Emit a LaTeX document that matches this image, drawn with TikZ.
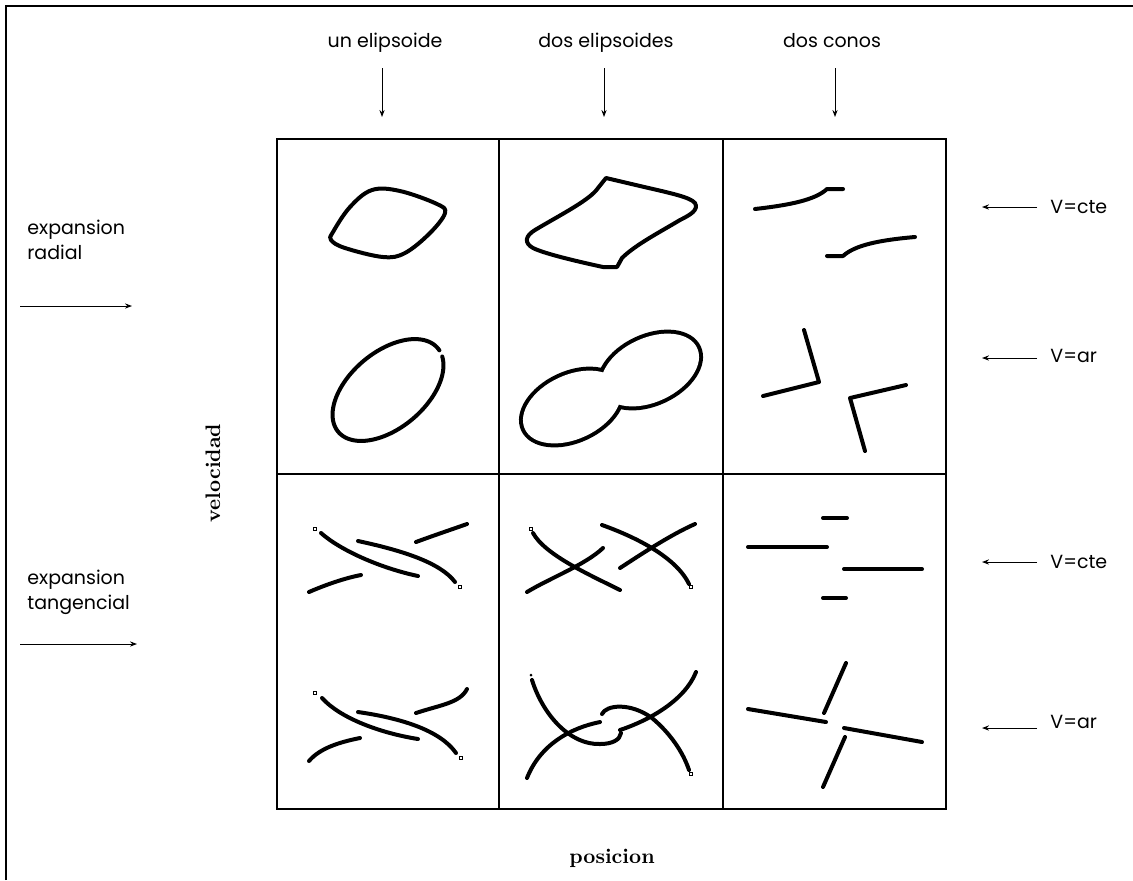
\documentclass[tikz,border=0pt]{standalone}
\usepackage{fontspec}
\newfontfamily\gothic{Poppins}
\usetikzlibrary{arrows.meta}
\begin{document}
\begin{tikzpicture}[x=0.5pt,y=-0.5pt,
  frame/.style={line width=0.75pt},
  curve/.style={line width=2pt, line cap=round, line join=round},
  lab/.style={font=\gothic\fontsize{9.5}{11}\selectfont, inner sep=0pt},
  ser/.style={font=\bfseries\fontsize{10.5}{12}\selectfont, inner sep=0pt},
  arr/.style={line width=0.5pt, -{Stealth[length=3.5pt,width=2.6pt]}},
  mk/.style={line width=0.4pt}
]
\useasboundingbox (0,0) rectangle (1133,880);
\draw[line width=1pt] (6,880) -- (6,6) -- (1133,6);
% grid
\draw[frame] (277,139) rectangle (946,809);
\draw[frame] (499,139) -- (499,809);
\draw[frame] (723,139) -- (723,809);
\draw[frame] (277,474) -- (946,474);
% top labels
\node[lab,anchor=base] (t1) at (385,47) {un elipsoide};
\node[lab,anchor=base] (t2) at (606,47) {dos elipsoides};
\node[lab,anchor=base] (t3) at (832,47) {dos conos};
\coordinate (t1a) at (382,68); \coordinate (t1b) at (382,117);
\coordinate (t2a) at (604,68); \coordinate (t2b) at (604,117);
\coordinate (t3a) at (835,68); \coordinate (t3b) at (835,117);
\draw[arr] (t1a) -- (t1b);
\draw[arr] (t2a) -- (t2b);
\draw[arr] (t3a) -- (t3b);
% left labels
\node[lab,anchor=base west] (l1) at (27,234) {expansion};
\node[lab,anchor=base west] (l2) at (27,259) {radial};
\node[lab,anchor=base west] (l3) at (27,584) {expansion};
\node[lab,anchor=base west] (l4) at (27,609) {tangencial};
\coordinate (l1a) at (20,306); \coordinate (l1b) at (132,306);
\coordinate (l3a) at (20,644); \coordinate (l3b) at (137,644);
\draw[arr] (l1a) -- (l1b);
\draw[arr] (l3a) -- (l3b);
% right labels
\node[lab,anchor=base west] (r1) at (1050,213) {V=cte};
\node[lab,anchor=base west] (r2) at (1050,362) {V=ar};
\node[lab,anchor=base west] (r3) at (1050,568) {V=cte};
\node[lab,anchor=base west] (r4) at (1050,728) {V=ar};
\coordinate (r1a) at (1037,207); \coordinate (r1b) at (982,207);
\coordinate (r2a) at (1037,358); \coordinate (r2b) at (982,358);
\coordinate (r3a) at (1037,562); \coordinate (r3b) at (982,562);
\coordinate (r4a) at (1037,728); \coordinate (r4b) at (982,728);
\draw[arr] (r1a) -- (r1b);
\draw[arr] (r2a) -- (r2b);
\draw[arr] (r3a) -- (r3b);
\draw[arr] (r4a) -- (r4b);
% axis labels
\node[ser,rotate=90] (vel) at (213,473) {velocidad};
\node[ser] (pos) at (612,858) {posicion};
% ---- cell 1,1
\draw[curve] plot[smooth cycle, tension=0.6] coordinates {(333,232) (350,207) (372,190) (400,191) (437,204) (445,213) (430,233) (405,253) (383,257) (345,248) (331,240)};
% ---- cell 1,2
\draw[curve] (606,178) -- (640,186) .. controls (670,193) and (690,197) .. (695,203)
  .. controls (699,210) and (690,215) .. (680,220)
  .. controls (660,232) and (635,245) .. (622,258) -- (617,267) -- (603,267)
  .. controls (580,262) and (545,254) .. (533,248)
  .. controls (524,243) and (525,236) .. (535,230)
  .. controls (560,215) and (590,200) .. (598,188) -- cycle;
% ---- cell 1,3
\draw[curve] (755,209) .. controls (790,205) and (815,200) .. (827,189) -- (843,189);
\draw[curve] (827,256) -- (843,256) .. controls (855,245) and (880,240) .. (915,237);
% ---- cell 2,1
\draw[curve] plot[domain=14:364, samples=120, smooth] ({388+65*cos(\x)*0.766+38*sin(\x)*0.643},{390-65*cos(\x)*0.643+38*sin(\x)*0.766});
% ---- cell 2,2
\begin{scope}
\draw[line width=4pt] (572,407) ellipse[x radius=52, y radius=32, rotate=25];
\draw[line width=4pt] (650,370) ellipse[x radius=52, y radius=32, rotate=25];
\fill[white] (572,407) ellipse[x radius=52, y radius=32, rotate=25];
\fill[white] (650,370) ellipse[x radius=52, y radius=32, rotate=25];
\end{scope}
% ---- cell 2,3
\draw[curve] (804,330) -- (819,382) -- (763,396);
\draw[curve] (906,385) -- (850,398) -- (865,451);
% ---- cell 3,1
\draw[curve] (321,533) .. controls (340,550) and (380,568) .. (418,576);
\draw[curve] (358,541) .. controls (400,550) and (440,562) .. (455,582);
\draw[curve] (416,542) .. controls (435,535) and (450,530) .. (467,524);
\draw[curve] (309,592) .. controls (325,585) and (345,578) .. (361,575);
\draw[mk] (313.5,527.5) rectangle (316.5,530.5);
\draw[mk] (458.5,585.5) rectangle (461.5,588.5);
% ---- cell 3,2
\draw[curve] (533,533) .. controls (545,555) and (590,575) .. (620,590);
\draw[curve] (527,592) .. controls (550,578) and (585,565) .. (603,548);
\draw[curve] (602,525) .. controls (630,535) and (675,555) .. (689,584);
\draw[curve] (620,568) .. controls (640,555) and (670,535) .. (695,524);
\draw[mk] (529.5,527.5) rectangle (532.5,530.5);
\draw[mk] (689.5,585.5) rectangle (692.5,588.5);
% ---- cell 3,3
\draw[curve] (823,518) -- (847,518);
\draw[curve] (748,547) -- (827,547);
\draw[curve] (844,569) -- (922,569);
\draw[curve] (823,598) -- (846,598);
% ---- cell 4,1
\draw[curve] (322,698) .. controls (340,718) and (380,733) .. (418,739);
\draw[curve] (358,712) .. controls (400,718) and (440,730) .. (456,753);
\draw[curve] (416,713) .. controls (440,705) and (460,703) .. (467,689);
\draw[curve] (309,761) .. controls (320,748) and (340,742) .. (360,738);
\draw[mk] (313.5,691.5) rectangle (316.5,694.5);
\draw[mk] (459.5,756.5) rectangle (462.5,759.5);
% ---- cell 4,2
\draw[curve] (532,680) .. controls (543,715) and (570,745) .. (600,744) .. controls (612,744) and (620,740) .. (621,733);
\draw[curve] (527,778) .. controls (540,745) and (570,728) .. (600,722);
\draw[curve] (602,714) .. controls (606,705) and (630,702) .. (652,718) .. controls (670,733) and (683,752) .. (689,770);
\draw[curve] (620,730) .. controls (650,720) and (685,700) .. (696,672);
\fill (531,675) circle (1.5);
\draw[mk] (689.5,772.5) rectangle (692.5,775.5);
% ---- cell 4,3
\draw[curve] (846,663) -- (824,713);
\draw[curve] (748,709) -- (826,722);
\draw[curve] (844,728) -- (922,742);
\draw[curve] (845,737) -- (823,787);
\end{tikzpicture}
\end{document}
